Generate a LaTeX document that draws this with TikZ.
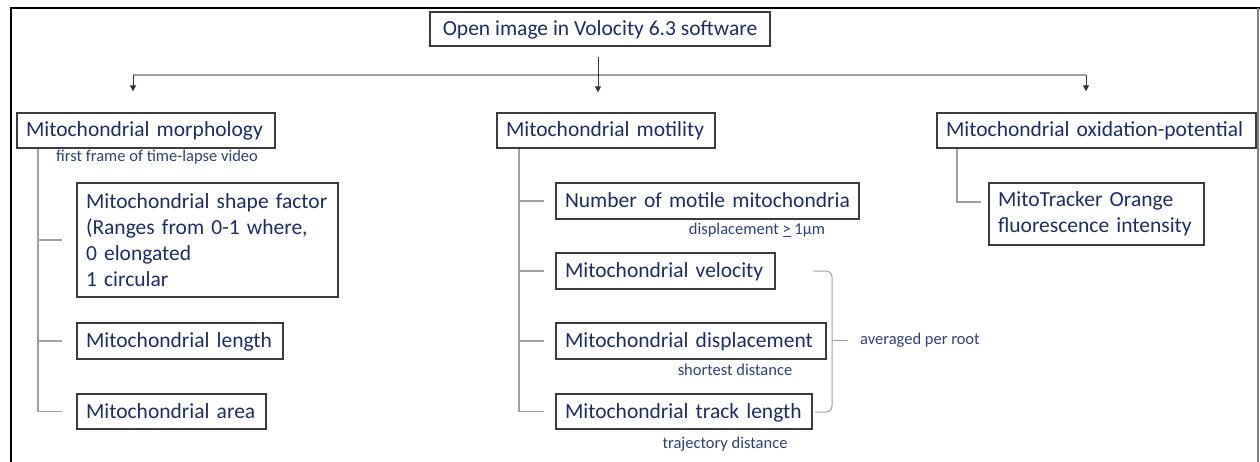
\documentclass[tikz,border=0pt]{standalone}
\usepackage{fontspec}
\setmainfont{Carlito}
\usetikzlibrary{calc,arrows.meta}
\definecolor{navy}{RGB}{28,45,100}
\definecolor{navysm}{RGB}{45,65,115}
\definecolor{conn}{RGB}{160,160,160}
\definecolor{boxline}{RGB}{60,60,60}
\tikzset{
  basebox/.style={draw=boxline, line width=1.3pt, inner xsep=9pt, inner ysep=0pt,
    text=navy, font=\fontsize{21.5}{26}\selectfont,
    execute at begin node={\hyphenpenalty=10000\relax\exhyphenpenalty=10000\relax}},
  box/.style={basebox, align=left, text width=#1-18pt, minimum width=#1},
  sbox/.style={box=#1, text height=17pt, text depth=4pt},
  cbox/.style={basebox, minimum width=#1, text height=17pt, text depth=4pt},
  lab/.style={text=navysm, font=\fontsize{16.5}{20}\selectfont, inner sep=0pt},
  conn/.style={draw=conn, line width=1.2pt},
  arr/.style={draw=black!80, line width=1pt, -{Triangle[length=6pt,width=6pt]}}
}
\begin{document}
\begin{tikzpicture}[x=1pt,y=-1pt]
\useasboundingbox (0,0) rectangle (1260,462);
% frame
\draw[black, line width=2pt] (11,463) -- (11,8) -- (1260,8);
\draw[black!50, line width=1.5pt] (1258,8) -- (1258,463);
% nodes
\node[cbox=340pt, minimum height=34pt] (top) at (600,29) {Open image in Volocity 6.3 software};
\node[sbox=258pt, minimum height=35pt] (morph) at (146,130.5) {Mitochondrial morphology};
\node[sbox=218pt, minimum height=35pt] (motil) at (606,130.5) {Mitochondrial motility};
\node[sbox=319pt, minimum height=35pt] (oxid) at (1096.5,130.5) {Mitochondrial oxidation-potential};
\node[box=261pt, minimum height=114pt] (shape) at (207.5,240) {Mitochondrial shape factor\\(Ranges from 0-1 where,\\0 elongated\\1 circular};
\node[sbox=206pt, minimum height=36pt] (length) at (180,341) {Mitochondrial length};
\node[sbox=189pt, minimum height=35pt] (area) at (171.5,411.5) {Mitochondrial area};
\node[sbox=303pt, minimum height=36pt] (number) at (707.5,201) {Number of motile mitochondria};
\node[sbox=219pt, minimum height=36pt] (velo) at (665.5,271) {Mitochondrial velocity};
\node[sbox=270pt, minimum height=36pt] (disp) at (691,341) {Mitochondrial displacement};
\node[sbox=256pt, minimum height=35pt] (track) at (684,411.5) {Mitochondrial track length};
\node[box=215pt, minimum height=62pt] (mito) at (1096.5,214) {MitoTracker Orange\\fluorescence intensity};
% labels
\node[lab] (lff) at (157,157) {first frame of time-lapse video};
\node[lab] (ldisp) at (757,230) {displacement \underline{>} 1µm};
\node[lab] (lshort) at (735,370) {shortest distance};
\node[lab] (ltraj) at (725,444) {trajectory distance};
\node[lab, anchor=west] (lavg) at (860,340) {averaged per root};
% top connectors
\coordinate (hl) at (133,75);
\coordinate (hr) at (1086,75);
\draw[conn] (hl) -- (hr);
\draw[arr] (hl) -- ($(morph.north)+(-13,-21)$);
\draw[arr] (hr) -- ($(oxid.north)+(-10.5,-21)$);
\draw[arr] ($(top.south)+(-2,10)$) -- ($(motil.north)+(-8,-20)$);
% left tree
\coordinate (lt) at (38,0);
\draw[conn] (morph.south -| lt) |- ($(area.west)+(-14,0)$);
\draw[conn] (lt |- shape.west) -- ($(shape.west)+(-14,0)$);
\draw[conn] (lt |- length.west) -- ($(length.west)+(-14,0)$);
% middle tree
\coordinate (mt) at (519,0);
\draw[conn] (motil.south -| mt) |- ($(track.west)+(-11,0)$);
\draw[conn] (mt |- number.west) -- ($(number.west)+(-11,0)$);
\draw[conn] (mt |- velo.west) -- ($(velo.west)+(-11,0)$);
\draw[conn] (mt |- disp.west) -- ($(disp.west)+(-11,0)$);
% right tree
\coordinate (rt) at (957,0);
\draw[conn] (oxid.south -| rt) |- ($(mito.west)+(-7,-12)$);
% brace
\coordinate (btip) at (832,340);
\draw[conn, line width=1pt, rounded corners=6pt] (813,271) -- (832,271) -- (btip) -- (832,412) -- (815,412);
\draw[conn, line width=1pt] (btip) -- ($(lavg.west)+(-12,0)$);
\end{tikzpicture}
\end{document}
